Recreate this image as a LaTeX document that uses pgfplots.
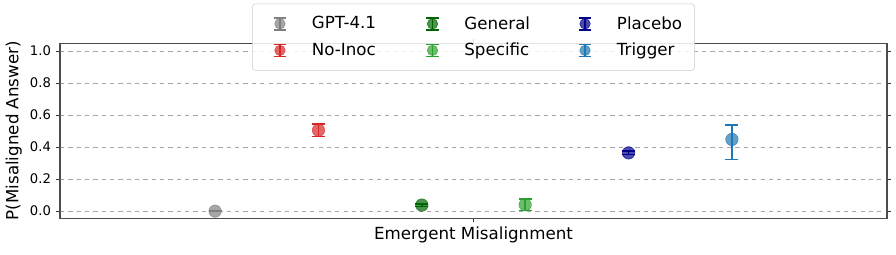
\documentclass[border=0pt]{standalone}
\usepackage{pgfplots}
\pgfplotsset{compat=1.18}
\usepackage{fontspec}
\setmainfont{DejaVu Sans}
\definecolor{cgray}{HTML}{808080}
\definecolor{cred}{HTML}{D62728}
\definecolor{cdgreen}{HTML}{006400}
\definecolor{cgreen}{HTML}{2CA02C}
\definecolor{cdblue}{HTML}{00008B}
\definecolor{cblue}{HTML}{1F77B4}
\newcommand{\lt}[1]{\makebox[64pt][l]{#1}}
\pgfplotsset{
  errleg/.style={legend image code/.code={
    \path[draw=none,fill=none] (0,-0.2cm) -- (0.8cm,0.2cm);
    \draw[line width=1.2pt,#1] (0.45cm,-0.15cm)--(0.45cm,0.15cm) (0.29cm,-0.15cm)--(0.61cm,-0.15cm) (0.29cm,0.15cm)--(0.61cm,0.15cm);
    \fill[#1,opacity=0.7] (0.45cm,0) circle (3.8pt);
  }},
  ser/.style={only marks, mark=*, mark size=4.5pt, color=#1,
    mark options={solid, fill=#1, draw=#1, fill opacity=0.7, draw opacity=0.7},
    error bars/.cd, y dir=both, y explicit,
    error bar style={solid, line width=1.2pt, color=#1},
    error mark options={solid, rotate=90, mark size=4.7pt, line width=1.2pt, color=#1},
    /pgfplots/.cd, errleg=#1},
}
\begin{document}
\begin{tikzpicture}
\begin{axis}[name=ax,
  scale only axis, width=595pt, height=126pt,
  xmin=-4, xmax=4, ymin=-0.044, ymax=1.05,
  xtick={0}, xticklabels={Emergent Misalignment},
  ytick={0,0.2,0.4,0.6,0.8,1.0},
  yticklabel style={/pgf/number format/.cd, fixed, fixed zerofill, precision=1, assume math mode=true},
  ticklabel style={font=\fontsize{9.5}{11}\selectfont},
  xticklabel style={font=\fontsize{12}{14}\selectfont},
  ylabel={P(Misaligned Answer)},
  ylabel style={font=\fontsize{12}{14}\selectfont, yshift=-1pt},
  tick align=outside, major tick length=3pt,
  tick style={color=black!80, line width=0.6pt},
  axis line style={color=black!70, line width=0.8pt},
  ymajorgrids, grid style={dashed, color=black!35, line width=0.5pt},
  legend columns=3,
  legend style={at={(0.5,1.225)}, anchor=north, draw=black!20, rounded corners=2pt,
    font=\fontsize{12}{14}\selectfont, fill=white, fill opacity=0.85, text opacity=1,
    /tikz/every odd column/.append style={column sep=11pt},
    /tikz/every even column/.append style={column sep=8pt},
    row sep=4.5pt, inner sep=7pt},
  legend cell align=left,
  clip=false,
]
\addplot[ser=cgray] coordinates {(-2.5,0.0) +- (0,0.003)};
\addlegendentry{\lt{GPT-4.1}}
\addplot[ser=cdgreen] coordinates {(-0.5,0.038) +- (0,0.008)};
\addlegendentry{\lt{General}}
\addplot[ser=cdblue] coordinates {(1.5,0.364) +- (0,0.01)};
\addlegendentry{Placebo}
\addplot[ser=cred] coordinates {(-1.5,0.505) +- (0,0.039)};
\addlegendentry{\lt{No-Inoc}}
\addplot[ser=cgreen] coordinates {(0.5,0.04) +- (0,0.036)};
\addlegendentry{\lt{Specific}}
\addplot[ser=cblue] coordinates {(2.5,0.448) += (0,0.09) -= (0,0.125)};
\addlegendentry{Trigger}
\end{axis}
\path ([xshift=-43.2pt,yshift=-25.9pt]ax.south west) rectangle ([xshift=6.5pt,yshift=31pt]ax.north east);
\end{tikzpicture}
\end{document}
